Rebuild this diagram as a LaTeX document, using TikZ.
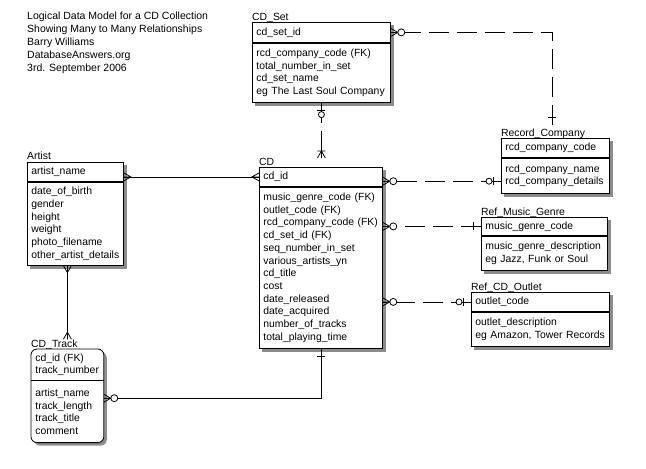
\documentclass[tikz,border=0pt]{standalone}
\usepackage{fontspec}
\setmainfont{Liberation Sans}
\usetikzlibrary{calc,backgrounds}
\newcommand{\erfont}{\fontsize{10.4}{12.7}\selectfont}
\tikzset{
    entity/.style={draw, fill=white, anchor=north west, align=left,
        inner xsep=4pt, inner ysep=0pt, font=\erfont, line width=0.8pt},
    entname/.style={anchor=base west, inner sep=0pt, font=\erfont},
    rel/.style={line width=0.8pt},
    nonid/.style={rel, dash pattern=on 20pt off 8pt},
    shadow/.style={fill=black!45},
    many/.pic={\draw[rel] (0,-4) -- (7,0) -- (0,4) (0,0) -- (7,0);},
    zmany/.pic={\draw[rel] (0,-4) -- (7,0) -- (0,4) (0,0) -- (7,0);
        \draw[rel, fill=white] (10.5,0) circle (3.5);},
    one/.pic={\draw[rel] (8,-4) -- (8,4);},
    zone/.pic={\draw[rel] (8,-4) -- (8,4);
        \draw[rel, fill=white] (12,0) circle (3);},
    onemany/.pic={\draw[rel] (0,-4) -- (7,0) -- (0,4) (0,0) -- (7,0) (7,-4) -- (7,4);},
}
\begin{document}
\begin{tikzpicture}[x=1pt, y=-1pt]
    \useasboundingbox (0,0) rectangle (646,469);
    \node[anchor=north west, align=left, inner sep=0pt, font=\fontsize{10.5}{13}\selectfont] (title) at (27,11.5) {
        Logical Data Model for a CD Collection \\
        Showing Many to Many Relationships \\
        Barry Williams \\
        DatabaseAnswers.org \\
        3rd. September 2006
    };
    % CD_Set
    \node[entname] (lblcdset) at (252,20.5) {CD\_Set};
    \node[entity, text width=130pt, minimum height=20pt] (keycdset) at (252,22) {cd\_set\_id};
    \node[entity, text width=130pt, minimum height=59pt] (attcdset) at (keycdset.south west) {
        rcd\_company\_code (FK) \\
        total\_number\_in\_set \\
        cd\_set\_name \\
        eg The Last Soul Company
    };
    % Artist
    \node[entname] (lblart) at (27,159) {Artist};
    \node[entity, text width=88pt, minimum height=19pt] (keyart) at (27,162) {artist\_name};
    \node[entity, text width=88pt, minimum height=83pt] (attart) at (keyart.south west) {
        date\_of\_birth \\
        gender \\
        height \\
        weight \\
        photo\_filename \\
        other\_artist\_details
    };
    % CD
    \node[entname] (lblcd) at (259,165.5) {CD};
    \node[entity, text width=115pt, minimum height=19pt] (keycd) at (259,167) {cd\_id};
    \node[entity, text width=115pt, minimum height=161pt] (attcd) at (keycd.south west) {
        music\_genre\_code (FK) \\
        outlet\_code (FK) \\
        rcd\_company\_code (FK) \\
        cd\_set\_id (FK) \\
        seq\_number\_in\_set \\
        various\_artists\_yn \\
        cd\_title \\
        cost \\
        date\_released \\
        date\_acquired \\
        number\_of\_tracks \\
        total\_playing\_time
    };
    % Record_Company
    \node[entname] (lblrec) at (501,136.5) {Record\_Company};
    \node[entity, text width=100pt, minimum height=19pt] (keyrec) at (501,138) {rcd\_company\_code};
    \node[entity, text width=100pt, minimum height=35pt] (attrec) at (keyrec.south west) {
        rcd\_company\_name \\
        rcd\_company\_details
    };
    % Ref_Music_Genre
    \node[entname] (lblrmg) at (481,215) {Ref\_Music\_Genre};
    \node[entity, text width=118pt, minimum height=18pt] (keyrmg) at (481,217) {music\_genre\_code};
    \node[entity, text width=118pt, minimum height=34pt] (attrmg) at (keyrmg.south west) {
        music\_genre\_description \\
        eg Jazz, Funk or Soul
    };
    % Ref_CD_Outlet
    \node[entname] (lblrco) at (471,290.5) {Ref\_CD\_Outlet};
    \node[entity, text width=130pt, minimum height=19pt] (keyrco) at (471,292) {outlet\_code};
    \node[entity, text width=130pt, minimum height=34pt] (attrco) at (keyrco.south west) {
        outlet\_description \\
        eg Amazon, Tower Records
    };
    % CD_Track
    \node[entname] (lbltrk) at (31,347) {CD\_Track};
    \node[entity, draw=none, fill=none, text width=64pt, minimum height=31pt] (keytrk) at (31,349) {
        cd\_id (FK) \\
        track\_number
    };
    \node[entity, draw=none, fill=none, text width=64pt, minimum height=61pt] (atttrk) at (keytrk.south west) {
        artist\_name \\
        track\_length \\
        track\_title \\
        comment
    };
    \draw[rel] (keytrk.south west) -- (keytrk.south east);
    % shadows
    \begin{scope}[on background layer]
        \foreach \e in {cdset,art,cd,rec,rmg,rco}
            \fill[shadow] ([shift={(3,3)}]key\e.north west) rectangle ([shift={(3,3)}]att\e.south east);
        \fill[shadow, rounded corners=6pt] ([shift={(3,3)}]keytrk.north west) rectangle ([shift={(3,3)}]atttrk.south east);
        \draw[rel, fill=white, rounded corners=6pt] (keytrk.north west) rectangle (atttrk.south east);
    \end{scope}
    % relationships
    \coordinate (recin) at (552,125);
    \coordinate (cdin) at (attcdset.south |- lblcd.north);
    \coordinate (recdet) at ([yshift=-5.5pt]attrec.west);
    \coordinate (trkin) at ([yshift=13.5pt]atttrk.east);
    \draw[nonid] (recin) |- (keycdset.east);
    \draw[nonid] (attcdset.south) -- (cdin);
    \draw[rel] (keyart.east |- keycd.west) -- (keycd.west);
    \draw[rel] (keytrk.north |- attart.south) -- (keytrk.north |- lbltrk.north);
    \draw[rel] (attcd.south) |- (trkin);
    \draw[nonid] (recdet) -- (keycd.east |- recdet);
    \draw[nonid] (keyrmg.west) -- (attcd.east |- keyrmg.west);
    \draw[nonid] (keyrco.west) -- (attcd.east |- keyrco.west);
    \pic at (keycdset.east) {zmany};
    \pic[rotate=90] at (recin) {one};
    \pic[rotate=-90] at (attcdset.south) {zone};
    \pic[rotate=90] at (cdin) {onemany};
    \pic at (keyart.east |- keycd.west) {many};
    \pic[rotate=180] at (keycd.west) {many};
    \pic[rotate=-90] at (keytrk.north |- attart.south) {many};
    \pic[rotate=90] at (keytrk.north |- lbltrk.north) {many};
    \pic[rotate=-90] at (attcd.south) {one};
    \pic at (trkin) {zmany};
    \pic at (keycd.east |- recdet) {zmany};
    \pic[rotate=180] at (recdet) {zone};
    \pic at (attcd.east |- keyrmg.west) {zmany};
    \pic[rotate=180] at (keyrmg.west) {one};
    \pic at (attcd.east |- keyrco.west) {zmany};
    \pic[rotate=180] at (keyrco.west) {zone};
\end{tikzpicture}
\end{document}
